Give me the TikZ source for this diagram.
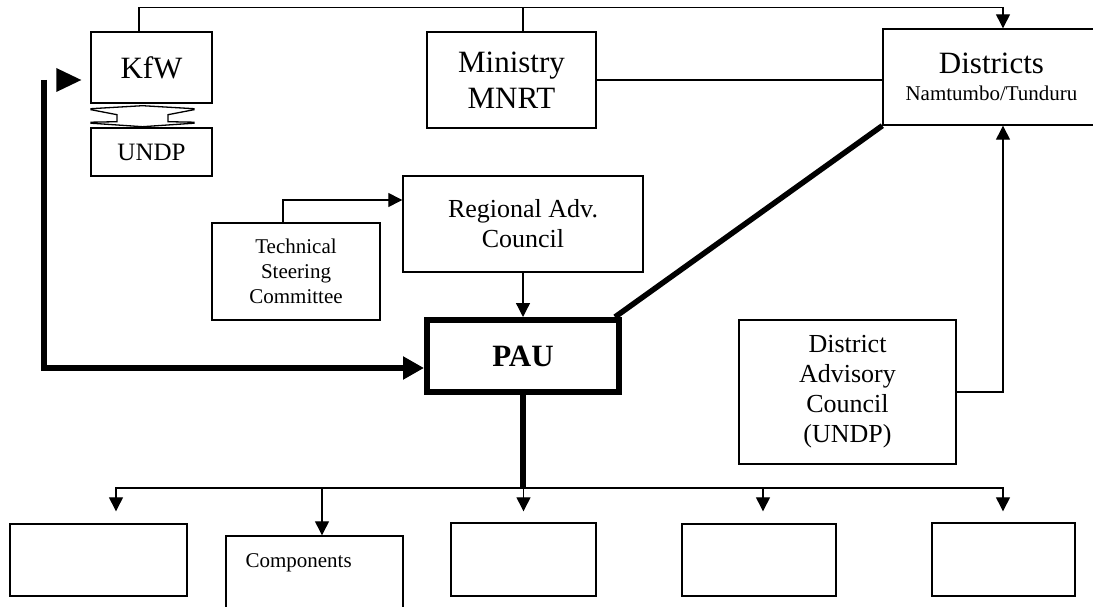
\documentclass[tikz,border=0pt]{standalone}
\usepackage{fontspec}
\setmainfont{Liberation Serif}
\usetikzlibrary{arrows.meta}

\begin{document}
\begin{tikzpicture}[x=1pt, y=-1pt,
  box/.style={draw, line width=1.4pt, align=center, inner sep=0pt},
  big/.style={font=\fontsize{31}{36}\selectfont},
  mid/.style={font=\fontsize{26}{30}\selectfont},
  small/.style={font=\fontsize{21}{25}\selectfont},
  link/.style={line width=1.3pt},
  arr/.style={link, -{Triangle[length=14pt,width=14pt]}},
  heavy/.style={line width=5.5pt}]
  \useasboundingbox (0,0) rectangle (1093,607);
  % top row
  \node[box, big, minimum width=121, minimum height=71] (kfw) at (151.5,67.5) {KfW};
  \node[box, font=\fontsize{25}{29}\selectfont, minimum width=121, minimum height=48] (undp) at (151.5,152) {UNDP};
  \node[box, big, minimum width=169, minimum height=96] (mnrt) at (511.5,80) {Ministry\\MNRT};
  \node[box, big, minimum width=217, minimum height=96] (dist) at (991.5,77)
    {Districts\\[-9pt]{\fontsize{21}{25}\selectfont Namtumbo/Tunduru}};
  % middle
  \node[box, mid, minimum width=240, minimum height=96] (rac) at (523,224) {Regional Adv.\\Council};
  \node[box, small, minimum width=168, minimum height=97] (tsc) at (296,271.5) {Technical\\Steering\\Committee};
  \node[box, line width=6pt, font=\fontsize{31}{36}\selectfont\bfseries,
    minimum width=192, minimum height=72] (pau) at (523,356) {PAU};
  \node[box, mid, minimum width=217, minimum height=144] (dac) at (847.5,392)
    {District\\Advisory\\Council\\(UNDP)};
  % components
  \node[box, minimum width=177, minimum height=72] (c1) at (98.5,560) {};
  \node[box, minimum width=177, minimum height=80] (c2) at (314.5,576) {};
  \node[small, anchor=base west, inner sep=0pt] (c2text) at ([xshift=20pt,yshift=-32pt]c2.north west) {Components};
  \node[box, minimum width=145, minimum height=73] (c3) at (523.5,559.5) {};
  \node[box, minimum width=154, minimum height=72] (c4) at (759,560) {};
  \node[box, minimum width=143, minimum height=73] (c5) at (1003.5,559.5) {};

  % top lines
  \draw[arr] ([xshift=-12.5pt]kfw.north) -- ++(0,-24) -| ([xshift=11.5pt]dist.north);
  \draw[link] ([xshift=11.5pt]mnrt.north) -- ++(0,-24);
  \draw[link] (mnrt.east) -- (mnrt.east -| dist.west);
  % KfW <-> UNDP
  \draw[line width=1.3pt, fill=white] ([xshift=-9pt,yshift=-2pt]kfw.south)
    -- ++(51.5,3) -- ++(0,1) -- ++(-26,5) -- ++(0,7) -- ++(26,0.5) -- ++(0,1)
    -- ++(-51.5,3.5) -- ++(-51.5,-3.5) -- ++(0,-1) -- ++(26,-0.5) -- ++(0,-7)
    -- ++(-26,-5) -- ++(0,-1) -- cycle;
  % heavy arrow from the left
  \coordinate (kfwin) at (44,80);
  \draw[heavy, -{Triangle[length=21pt,width=22pt]}] (kfwin) |- ([yshift=-12pt]pau.west);
  \fill ([xshift=-9pt,yshift=-12.5pt]kfw.west) -- ++(-25,-12) -- ++(0,24) -- cycle;
  % into PAU
  \draw[arr] ([xshift=-13pt]tsc.north) |- ([yshift=24pt]rac.west);
  \draw[arr] (rac.south) -- (pau.north);
  \draw[heavy] (dist.south west) -- ([xshift=-7pt]pau.north east);
  \draw[arr] (dac.east) -| ([xshift=11.5pt]dist.south);
  % PAU to components
  \draw[heavy] (pau.south) -- ++(0,93) coordinate (bus);
  \draw[arr] (bus) -| ([xshift=17.5pt,yshift=12pt]c1.north);
  \draw[arr] (bus) -| ([xshift=7.5pt]c2.north);
  \draw[arr] (bus) -| ([yshift=11pt]c3.north);
  \draw[arr] (bus) -| ([xshift=4pt,yshift=12pt]c4.north);
  \draw[arr] (bus) -| ([xshift=-0.5pt,yshift=11pt]c5.north);
\end{tikzpicture}
\end{document}
